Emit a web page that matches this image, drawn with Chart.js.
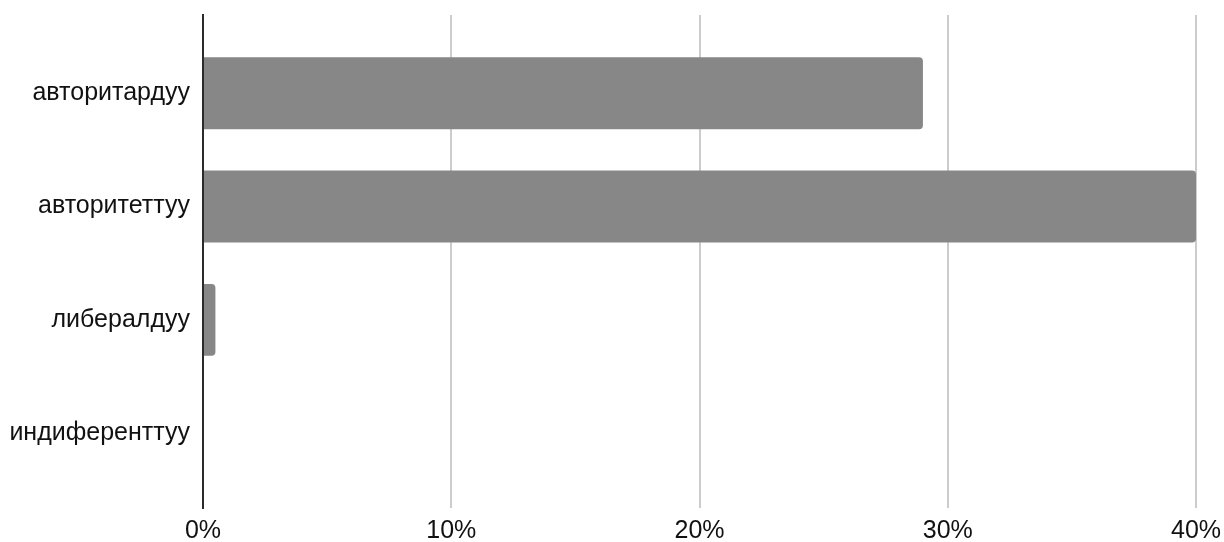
<!DOCTYPE html>
<html>
<head>
<meta charset="utf-8">
<script src="https://cdn.jsdelivr.net/npm/chart.js@4.4.1/dist/chart.umd.min.js"></script>
<style>
  html, body { margin: 0; padding: 0; background: #fff; }
  #wrap { width: 1224px; height: 542px; }
</style>
</head>
<body>
<div id="wrap"><canvas id="styleChart" width="1224" height="542"></canvas></div>
<script>
// variables
const categories = ['авторитардуу', 'авторитеттуу', 'либералдуу', 'индиференттуу'];
const shares = [29, 40, 0.5, 0];
const xTicks = [0, 10, 20, 30, 40];

const ctxStyle = document.getElementById('styleChart').getContext('2d');

// bar points, index on a numeric y axis so the band padding can match
const barPoints = shares.map(function (v, i) {
    return { x: v, y: i };
});

const myStyleChart = new Chart(ctxStyle, {
    type: 'bar',
    data: {
        datasets: [{
            data: barPoints,
            backgroundColor: '#878787',
            borderWidth: 0,
            borderRadius: 4,
            borderSkipped: 'start',
            categoryPercentage: 1,
            barPercentage: 0.635
        }]
    },
    options: {
        indexAxis: 'y',
        responsive: false,
        animation: false,
        layout: {
            padding: { top: 15, right: 28, bottom: 0, left: 0 }
        },
        plugins: {
            legend: { display: false },
            tooltip: { enabled: false }
        },
        scales: {
            x: {
                type: 'linear',
                min: 0,
                max: 40,
                afterBuildTicks: function (scale) {
                    scale.ticks = xTicks.map(function (v) { return { value: v }; });
                },
                afterFit: function (scale) {
                    scale.height = 34;
                    scale.paddingLeft = 0;
                    scale.paddingRight = 0;
                },
                ticks: {
                    callback: function (v) { return v + '%'; },
                    color: '#111',
                    padding: 8,
                    font: { family: 'Liberation Sans', size: 25 }
                },
                grid: {
                    color: function (c) {
                        return c.tick && c.tick.value === 0 ? 'rgba(0,0,0,0)' : '#cccccc';
                    },
                    lineWidth: 2,
                    drawTicks: false
                },
                border: { display: false }
            },
            y: {
                type: 'linear',
                reverse: true,
                offset: false,
                min: -0.69,
                max: 3.66,
                afterBuildTicks: function (scale) {
                    scale.ticks = categories.map(function (_, i) { return { value: i }; });
                },
                afterFit: function (scale) {
                    scale.width = 203;
                    scale.paddingTop = 0;
                    scale.paddingBottom = 0;
                },
                ticks: {
                    callback: function (v) { return categories[v]; },
                    color: '#111',
                    padding: 13,
                    font: { family: 'Liberation Sans', size: 25 }
                },
                grid: {
                    color: 'rgba(0,0,0,0)',
                    drawTicks: false
                },
                border: { display: true, color: '#2b2b2b', width: 2 }
            }
        }
    }
});
</script>
</body>
</html>
